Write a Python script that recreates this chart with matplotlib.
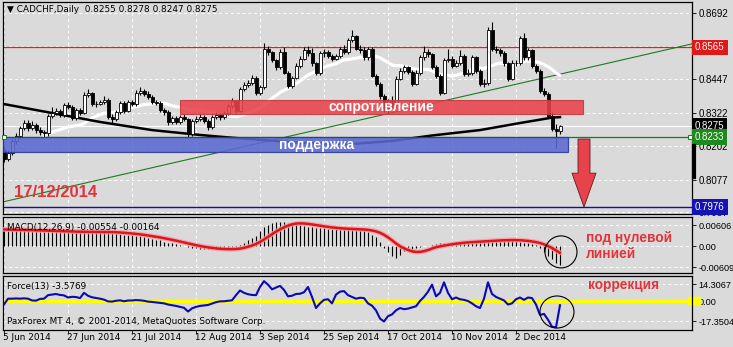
import numpy as np
import pandas as pd
import matplotlib
matplotlib.use('Agg')
import matplotlib.pyplot as plt
import matplotlib.transforms as mtransforms
from matplotlib.patches import Rectangle, Ellipse, FancyArrow
from matplotlib.lines import Line2D

plt.rcParams['font.family'] = ['DejaVu Sans']

W, H = 733, 347
BG = '#DADADA'
RED_TXT = '#E2343A'
AXFONT = 'Liberation Sans'

# ---- CADCHF daily, 5 Jun 2014 .. 17 Dec 2014 ----
first_open = 0.8188
close = [0.8155, 0.8174, 0.8218, 0.8237, 0.8267, 0.8285, 0.8267, 0.8278, 0.8259, 0.8252,
         0.8248, 0.8312, 0.8323, 0.8330, 0.8315, 0.8353, 0.8345, 0.8304, 0.8334, 0.8323,
         0.8390, 0.8397, 0.8356, 0.8358, 0.8364, 0.8371, 0.8308, 0.8300, 0.8326, 0.8360,
         0.8330, 0.8364, 0.8356, 0.8397, 0.8405, 0.8394, 0.8382, 0.8364, 0.8360, 0.8334,
         0.8326, 0.8289, 0.8304, 0.8289, 0.8308, 0.8300, 0.8244, 0.8293, 0.8300, 0.8308,
         0.8293, 0.8270, 0.8308, 0.8315, 0.8308, 0.8323, 0.8349, 0.8368, 0.8330, 0.8412,
         0.8427, 0.8435, 0.8453, 0.8397, 0.8420, 0.8561, 0.8547, 0.8517, 0.8491, 0.8547,
         0.8472, 0.8423, 0.8453, 0.8498, 0.8524, 0.8554, 0.8543, 0.8506, 0.8472, 0.8543,
         0.8547, 0.8532, 0.8524, 0.8532, 0.8561, 0.8547, 0.8591, 0.8606, 0.8561, 0.8554,
         0.8528, 0.8561, 0.8461, 0.8431, 0.8386, 0.8341, 0.8368, 0.8353, 0.8450, 0.8479,
         0.8491, 0.8476, 0.8431, 0.8472, 0.8528, 0.8547, 0.8539, 0.8494, 0.8461, 0.8397,
         0.8517, 0.8524, 0.8498, 0.8506, 0.8535, 0.8468, 0.8472, 0.8528, 0.8479, 0.8431,
         0.8435, 0.8629, 0.8561, 0.8554, 0.8543, 0.8506, 0.8450, 0.8509, 0.8506, 0.8599,
         0.8528, 0.8554, 0.8498, 0.8479, 0.8405, 0.8394, 0.8312, 0.8263, 0.8255, 0.8275]
high = [0.8200, 0.8185, 0.8226, 0.8248, 0.8276, 0.8297, 0.8296, 0.8293, 0.8286, 0.8270,
        0.8262, 0.8320, 0.8345, 0.8341, 0.8338, 0.8360, 0.8365, 0.8352, 0.8342, 0.8340,
        0.8402, 0.8412, 0.8402, 0.8366, 0.8372, 0.8384, 0.8378, 0.8318, 0.8333, 0.8368,
        0.8367, 0.8371, 0.8372, 0.8408, 0.8420, 0.8413, 0.8405, 0.8390, 0.8372, 0.8366,
        0.8342, 0.8333, 0.8312, 0.8311, 0.8317, 0.8318, 0.8306, 0.8300, 0.8312, 0.8318,
        0.8316, 0.8300, 0.8315, 0.8325, 0.8322, 0.8330, 0.8358, 0.8377, 0.8372, 0.8420,
        0.8438, 0.8446, 0.8462, 0.8458, 0.8428, 0.8580, 0.8572, 0.8553, 0.8524, 0.8561,
        0.8565, 0.8478, 0.8460, 0.8506, 0.8532, 0.8565, 0.8572, 0.8562, 0.8512, 0.8550,
        0.8560, 0.8555, 0.8540, 0.8540, 0.8568, 0.8575, 0.8600, 0.8629, 0.8612, 0.8575,
        0.8565, 0.8568, 0.8566, 0.8468, 0.8436, 0.8392, 0.8376, 0.8385, 0.8458, 0.8490,
        0.8500, 0.8498, 0.8482, 0.8480, 0.8536, 0.8570, 0.8558, 0.8546, 0.8500, 0.8466,
        0.8525, 0.8560, 0.8532, 0.8518, 0.8555, 0.8542, 0.8485, 0.8536, 0.8535, 0.8485,
        0.8450, 0.8640, 0.8660, 0.8572, 0.8562, 0.8550, 0.8512, 0.8518, 0.8520, 0.8608,
        0.8620, 0.8562, 0.8560, 0.8505, 0.8485, 0.8416, 0.8400, 0.8325, 0.8282, 0.8278]
low = [0.8144, 0.8146, 0.8168, 0.8210, 0.8230, 0.8259, 0.8258, 0.8260, 0.8250, 0.8241,
       0.8236, 0.8240, 0.8305, 0.8314, 0.8308, 0.8310, 0.8338, 0.8298, 0.8297, 0.8315,
       0.8318, 0.8383, 0.8350, 0.8347, 0.8352, 0.8358, 0.8300, 0.8285, 0.8293, 0.8318,
       0.8322, 0.8325, 0.8348, 0.8350, 0.8390, 0.8386, 0.8376, 0.8356, 0.8351, 0.8326,
       0.8315, 0.8280, 0.8282, 0.8281, 0.8283, 0.8292, 0.8230, 0.8238, 0.8286, 0.8293,
       0.8285, 0.8262, 0.8263, 0.8300, 0.8298, 0.8301, 0.8317, 0.8342, 0.8323, 0.8325,
       0.8404, 0.8420, 0.8428, 0.8390, 0.8388, 0.8412, 0.8538, 0.8510, 0.8483, 0.8485,
       0.8466, 0.8415, 0.8416, 0.8447, 0.8490, 0.8518, 0.8535, 0.8498, 0.8464, 0.8465,
       0.8530, 0.8525, 0.8515, 0.8517, 0.8525, 0.8540, 0.8540, 0.8584, 0.8555, 0.8546,
       0.8520, 0.8520, 0.8455, 0.8423, 0.8375, 0.8325, 0.8322, 0.8340, 0.8345, 0.8443,
       0.8470, 0.8466, 0.8422, 0.8425, 0.8465, 0.8520, 0.8530, 0.8486, 0.8453, 0.8390,
       0.8392, 0.8510, 0.8490, 0.8492, 0.8500, 0.8460, 0.8460, 0.8465, 0.8470, 0.8423,
       0.8420, 0.8428, 0.8553, 0.8546, 0.8535, 0.8498, 0.8440, 0.8445, 0.8498, 0.8500,
       0.8520, 0.8520, 0.8490, 0.8472, 0.8398, 0.8386, 0.8305, 0.8256, 0.8195, 0.8247]

# long moving average (black), read at a few bars
ma_long_bar = [0, 12, 24, 37, 49, 56, 65, 75, 87, 97, 104, 107, 119, 129, 137, 139]
ma_long_val = [0.8356, 0.8323, 0.8290, 0.8260, 0.8242, 0.8233, 0.8223, 0.8212, 0.8209,
               0.8220, 0.8234, 0.8240, 0.8260, 0.8286, 0.8306, 0.8308]

# MACD(12,26,9) main histogram
macd = [0.0048, 0.0047, 0.0047, 0.0046, 0.0046, 0.0045, 0.0045, 0.0044, 0.0044, 0.0043,
        0.0043, 0.0043, 0.0042, 0.0042, 0.0042, 0.0041, 0.0041, 0.0041, 0.0040, 0.0040,
        0.0041, 0.0041, 0.0041, 0.0040, 0.0040, 0.0040, 0.0040, 0.0039, 0.0037, 0.0035,
        0.0033, 0.0032, 0.0031, 0.0029, 0.0028, 0.0026, 0.0023, 0.0021, 0.0018, 0.0016,
        0.0013, 0.0010, 0.0008, 0.0005, 0.0002, 0.0000, -0.0003, -0.0006, -0.0007, -0.0008,
        -0.0009, -0.0009, -0.0010, -0.0010, -0.0010, -0.0010, -0.0009, -0.0007, -0.0004, 0.0002,
        0.0010, 0.0017, 0.0024, 0.0030, 0.0043, 0.0055, 0.0061, 0.0066, 0.0068, 0.0070,
        0.0069, 0.0067, 0.0065, 0.0063, 0.0060, 0.0058, 0.0056, 0.0054, 0.0053, 0.0052,
        0.0051, 0.0050, 0.0050, 0.0049, 0.0048, 0.0048, 0.0048, 0.0048, 0.0047, 0.0047,
        0.0045, 0.0040, 0.0033, 0.0025, 0.0012, -0.0005, -0.0018, -0.0030, -0.0035, -0.0027,
        -0.0015, -0.0011, -0.0008, -0.0005, -0.0003, -0.0001, 0.0001, 0.0004, 0.0006, 0.0008,
        0.0009, 0.0010, 0.0011, 0.0012, 0.0012, 0.0013, 0.0013, 0.0014, 0.0014, 0.0015,
        0.0016, 0.0017, 0.0018, 0.0019, 0.0019, 0.0018, 0.0017, 0.0016, 0.0014, 0.0012,
        0.0010, 0.0008, 0.0005, 0.0002, -0.0006, -0.0017, -0.0028, -0.0038, -0.0050, -0.00554]

# Force(13)
force = [-3.0, 2.0, 2.0, 2.2, 2.0, 2.3, 2.0, 0.5, 0.3, 1.8,
         2.0, 5.0, 5.5, 6.0, 5.2, 4.8, 3.0, 3.6, 3.4, 2.5,
         7.0, 4.5, 3.2, 2.6, 2.0, 1.2, -0.3, -0.5, 0.2, 0.6,
         -0.2, 0.4, 0.5, 0.8, 0.6, 0.2, -0.5, -0.8, -1.2, -1.6,
         -2.0, -3.0, -3.6, -4.2, -5.0, -5.8, -9.0, -6.3, -5.0, -4.2,
         -3.8, -3.4, -2.2, -1.0, -0.3, -0.2, 0.2, 0.6, 5.0, 9.0,
         7.0, 5.8, 5.2, 5.0, 12.0, 17.0, 14.0, 10.0, 11.5, 13.0,
         9.5, 4.0, 4.5, 6.0, 6.2, 7.5, 12.0, 3.5, -6.0, -2.0,
         1.0, 1.5, -2.0, 5.5, 8.0, 8.5, 5.0, 3.5, 2.0, 2.8,
         2.5, -2.0, -4.0, -8.0, -15.0, -17.5, -13.0, -11.5, -8.0, -6.0,
         -7.0, -6.5, -5.5, -4.5, 0.0, 3.5, 8.0, 14.0, 4.0, 7.0,
         16.0, 7.0, 1.5, 3.0, 1.5, 1.0, 0.0, -2.0, -4.5, -6.0,
         2.0, 16.0, 6.0, 3.5, 2.0, 0.5, -3.0, -2.0, 1.5, 3.0,
         1.0, 3.0, 2.5, -3.0, -12.0, -11.0, -16.0, -22.0, -22.5, -3.5769]

dates = ['5 Jun 2014', '27 Jun 2014', '21 Jul 2014', '12 Aug 2014', '3 Sep 2014',
         '25 Sep 2014', '17 Oct 2014', '10 Nov 2014', '2 Dec 2014']
date_bars = [0, 16, 32, 48, 64, 80, 96, 112, 128]

price_ticks = [0.8692, 0.8570, 0.8447, 0.8322, 0.8202, 0.8077, 0.7957]
price_labels = ['0.8692', '', '0.8447', '0.8322', '0.8202', '0.8077', '0.7957']
resist_level = 0.8565
support_level = 0.8233
target_level = 0.7976
last_price = 0.8275
resist_zone = (44, 144.75, 0.8319, 0.8371)
support_zone = (-0.25, 141.0, 0.8179, 0.8234)
trend_bar = [-0.25, 172.0]
trend_val = [0.7995, 0.8578]

close = np.array(close)
high = np.array(high)
low = np.array(low)
opens = np.r_[first_open, close[:-1]]
bars = np.arange(len(close))
ma_short = pd.Series(close).rolling(21, min_periods=11).mean()
signal = pd.Series(macd).rolling(9, min_periods=1).mean()

fig = plt.figure(figsize=(W / 100, H / 100), dpi=100)
fig.patch.set_facecolor(BG)


def box(l, t, r, b):
    return [l / W, 1 - b / H, (r - l) / W, (b - t) / H]


ax = fig.add_axes(box(3, 2, 692, 213.5))
am = fig.add_axes(box(3, 216.5, 692, 273))
af = fig.add_axes(box(3, 276, 692, 330))

for a in (ax, am, af):
    a.set_facecolor(BG)
    a.set_xlim(-0.25, 172)
    a.set_xticks(date_bars)
    a.tick_params(axis='x', length=0, labelbottom=False)
    a.yaxis.tick_right()
    a.tick_params(axis='y', length=3, width=0.6, pad=1.5, colors='black')
    a.grid(True, color='white', ls=(0, (3, 3)), lw=0.7)
    a.set_axisbelow(True)
    for s in a.spines.values():
        s.set_color('black')
        s.set_linewidth(0.9)


def ylabels(a, labels, size=7):
    a.set_yticklabels(labels, fontsize=size, family=AXFONT)


# ---- main price panel ----
ax.set_ylim(0.79522, 0.87326)
ax.set_yticks(price_ticks)
ylabels(ax, price_labels)

ax.axhline(resist_level, color='#E02020', lw=0.9, zorder=2)
ax.axhline(last_price, color='white', lw=0.8, zorder=2)
ax.axhline(support_level, color='#1E7A1E', lw=0.9, zorder=2)
ax.axhline(target_level, color='#1010A0', lw=1.0, zorder=2)
ax.plot(trend_bar, trend_val, color='#1E7A1E', lw=0.8, zorder=2)
ax.plot([trend_bar[0] + 0.3, trend_bar[1] - 0.5], [support_level, support_level], ls='none',
        marker='s', ms=3, mfc='white', mec='#1E7A1E', mew=0.7, zorder=8, clip_on=False)

ax.plot(bars, ma_short, color='white', lw=2.3, zorder=3, solid_capstyle='round')
ax.plot(ma_long_bar, ma_long_val, color='black', lw=1.8, zorder=3)

up = close >= opens
ax.vlines(bars, low, high, color='black', lw=0.8, zorder=4)
ax.bar(bars[up], np.maximum((close - opens)[up], 0.00006), bottom=opens[up], width=0.75,
       color='white', edgecolor='black', lw=0.6, zorder=5)
ax.bar(bars[~up], (opens - close)[~up], bottom=close[~up], width=0.75,
       color='black', edgecolor='black', lw=0.6, zorder=5)

b0, b1, lo, hi = resist_zone
ax.add_patch(Rectangle((b0, lo), b1 - b0, hi - lo, facecolor='#E8434B', edgecolor='#C8343C',
                       lw=0.8, alpha=0.88, zorder=6))
ax.text((b0 + b1) / 2, (lo + hi) / 2, 'сопротивление', ha='center', va='center', color='white',
        fontsize=10, fontweight='bold', family='Liberation Sans', zorder=7)
b0, b1, lo, hi = support_zone
ax.add_patch(Rectangle((b0, lo), b1 - b0, hi - lo, facecolor='#5A69D2', edgecolor='#2C3A9A',
                       lw=0.9, alpha=0.88, zorder=6))
ax.text(78.25, (lo + hi) / 2, 'поддержка', ha='center', va='center', color='white',
        fontsize=10, fontweight='bold', family='Liberation Sans', zorder=7)

ax.add_patch(FancyArrow(145.0, 0.8227, 0, target_level - 0.8227, width=3, head_width=6,
                        head_length=0.0125, length_includes_head=True, facecolor='#E8434B',
                        edgecolor='#5A2020', lw=0.6, zorder=7))

ax.text(2.5, 0.8028, '17/12/2014', color=RED_TXT, fontsize=12, fontweight='bold',
        family='Liberation Sans', va='center', ha='left', zorder=7)
ax.text(4 / 689, 1 - 8 / 211.5, '▼ CADCHF,Daily  0.8255 0.8278 0.8247 0.8275',
        transform=ax.transAxes, fontsize=6.4, va='center', ha='left')

trans = mtransforms.blended_transform_factory(ax.transAxes, ax.transData)
for val, fc in [(resist_level, '#E01818'), (last_price, 'black'),
                (support_level, '#1E8A1E'), (target_level, '#1414B4')]:
    ax.text(1 + 3 / 689, val, '%.4f' % val, transform=trans, color='white', fontsize=7,
            family=AXFONT, va='center', ha='left', clip_on=False, zorder=9,
            bbox=dict(boxstyle='square,pad=0.3', facecolor=fc, edgecolor='none'))

# black marker on the price scale
fig.add_artist(Line2D([693.5 / W, 693.5 / W], [1 - 146 / H, 1 - 177 / H], color='black', lw=3))

# ---- MACD panel ----
am.set_ylim(-0.0078, 0.00853)
am.set_yticks([0.00606, 0.0, -0.00609])
ylabels(am, ['0.00606', '0.00', '-0.00609'], 6.6)
am.vlines(bars, 0, macd, color='black', lw=0.8, zorder=3)
am.plot(bars, signal, color='#F4A0A0', lw=3.6, alpha=0.8, zorder=4, solid_capstyle='round')
am.plot(bars, signal, color='#E0141E', lw=1.8, zorder=5, solid_capstyle='round')
am.text(4 / 689, 1 - 10.5 / 56.5, 'MACD(12,26,9) -0.00554 -0.00164', transform=am.transAxes,
        fontsize=6.4, va='center', ha='left', zorder=6)
am.add_patch(Ellipse((139.25, -0.0017), 8, 0.00925, fill=False, edgecolor='black', lw=0.8, zorder=6))
am.text(145.5, 0.0023, 'под нулевой', color=RED_TXT, fontsize=9.8, fontweight='bold',
        family='Liberation Sans', va='center', ha='left')
am.text(145.5, -0.0023, 'линией', color=RED_TXT, fontsize=9.8, fontweight='bold',
        family='Liberation Sans', va='center', ha='left')

# ---- Force panel ----
af.set_ylim(-24.8, 21.4)
af.set_yticks([14.3067, 0.0, -17.3504])
ylabels(af, ['14.3067', '0.00', '-17.3504'], 6.6)
af.axhline(0, color='#FFFF00', lw=2.4, zorder=2)
af.plot([1.0, 1.007], [0, 0], transform=mtransforms.blended_transform_factory(af.transAxes, af.transData),
        color='#FFFF00', lw=6, clip_on=False, zorder=1)
af.plot(bars, force, color='#0A0AB4', lw=1.5, zorder=3)
af.text(4 / 689, 1 - 10 / 54, 'Force(13) -3.5769', transform=af.transAxes,
        fontsize=6.4, va='center', ha='left')
af.text(4 / 689, 1 - 46 / 54, 'PaxForex MT 4, © 2001-2014, MetaQuotes Software Corp.',
        transform=af.transAxes, fontsize=6.4, va='center', ha='left')
af.add_patch(Ellipse((138.25, -9.4), 8.5, 27.4, fill=False, edgecolor='black', lw=0.8, zorder=6))
af.text(146, 13.7, 'коррекция', color=RED_TXT, fontsize=9.8, fontweight='bold',
        family='Liberation Sans', va='center', ha='left')

af.tick_params(axis='x', length=3, width=0.6, direction='out')
dtrans = mtransforms.blended_transform_factory(af.transData, af.transAxes)
for b, lab in zip(date_bars, dates):
    af.text(b - 0.2, -8 / 54, lab, transform=dtrans, fontsize=6.4, va='center', ha='left',
            clip_on=False)

fig.savefig('out.png', dpi=100, facecolor=BG)
